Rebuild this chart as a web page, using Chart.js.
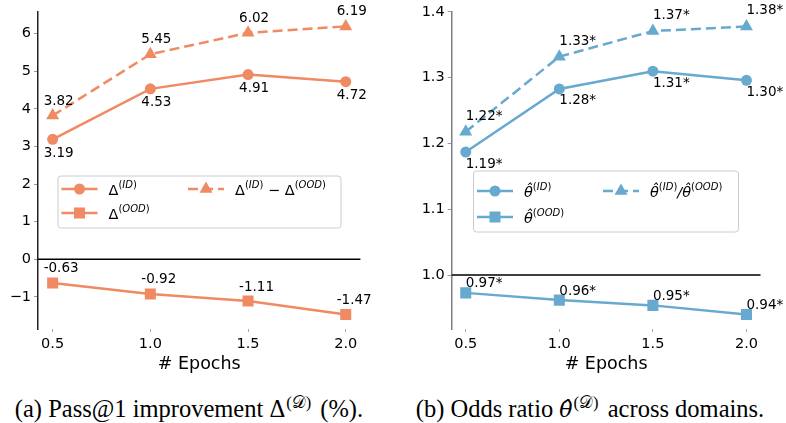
<!DOCTYPE html>
<html>
<head>
<meta charset="utf-8">
<script src="https://cdn.jsdelivr.net/npm/chart.js@4.4.0/dist/chart.umd.min.js"></script>
<style>
  html, body { margin: 0; padding: 0; background: #fff; }
  #wrap { position: relative; width: 786px; height: 423px; overflow: hidden; }
  canvas { position: absolute; top: 0; }
  #passChart { left: 0; }
  #oddsChart { left: 393px; }
  .cap { position: absolute; top: 397px; transform: translateX(-50%); white-space: nowrap; line-height: 1;
         font-family: "Liberation Serif", "Times New Roman", serif; font-size: 24.5px; color: #000; }
  .cap sup { font-size: 16.5px; vertical-align: 0; position: relative; top: -9px; margin-left: 1px; margin-right: 3px; }
  .cap .th { font-family: "DejaVu Serif", serif; font-style: italic; font-size: 22px; }
</style>
</head>
<body>
<div id="wrap">
  <canvas id="passChart" width="393" height="378"></canvas>
  <canvas id="oddsChart" width="393" height="378"></canvas>
  <div class="cap" style="left:189px">(a) Pass@1 improvement Δ<sup>(𝒟)</sup> (%).</div>
  <div class="cap" style="left:590px">(b) Odds ratio <span class="th">θ̂</span><sup>(𝒟)</sup> across domains.</div>
</div>
<script>
// --- data ---
const epochs     = [0.5, 1.0, 1.5, 2.0];
const epochTicks = [0.5, 1.0, 1.5, 2.0];

const passId  = [3.19, 4.53, 4.91, 4.72];
const passOod = [-0.63, -0.92, -1.11, -1.47];
const passGap = [3.82, 5.45, 6.02, 6.19];
const passTicks = [-1, 0, 1, 2, 3, 4, 5, 6];

const oddsId    = [1.187, 1.283, 1.310, 1.296];
const oddsOod   = [0.973, 0.962, 0.954, 0.940];
const oddsRatio = [1.218, 1.332, 1.371, 1.378];
const oddsTicks = [1.0, 1.1, 1.2, 1.3, 1.4];

// --- styling ---
const ORANGE = '#ef8a62';
const BLUE   = '#67a9cf';
const SANS   = '"DejaVu Sans", sans-serif';

function series(ys) { return epochs.map((x, i) => ({ x, y: ys[i] })); }

// matplotlib-style 5% margins
function padRange(vals) {
  const lo = Math.min(...vals), hi = Math.max(...vals), m = (hi - lo) * 0.05;
  return [lo - m, hi + m];
}

function lineSet(label, ys, color, style, radius, dashed, valueLabel) {
  return {
    label, data: series(ys),
    borderColor: color, backgroundColor: color,
    borderWidth: 2.5, borderDash: dashed ? [10, 5] : [],
    pointStyle: style, pointRadius: radius, pointHoverRadius: radius,
    pointBorderWidth: 0, tension: 0,
    valueLabel
  };
}

// numbers next to each marker
const valueLabels = {
  id: 'valueLabels',
  afterDatasetsDraw(chart) {
    const ctx = chart.ctx;
    ctx.save();
    ctx.font = '13.5px ' + SANS;
    ctx.fillStyle = '#000';
    ctx.textAlign = 'left';
    ctx.textBaseline = 'middle';
    chart.data.datasets.forEach((ds, i) => {
      const lab = ds.valueLabel;
      chart.getDatasetMeta(i).data.forEach((pt, j) => {
        ctx.fillText(ds.data[j].y.toFixed(2) + lab.suffix, pt.x + lab.dx, pt.y + lab.dy);
      });
    });
    ctx.restore();
  }
};

// black horizontal reference line (0 / 1.0)
const refLine = {
  id: 'refLine',
  beforeDatasetsDraw(chart, args, opts) {
    const { ctx, chartArea } = chart;
    const y = chart.scales.y.getPixelForValue(opts.value);
    ctx.save();
    ctx.strokeStyle = '#000';
    ctx.lineWidth = 1.5;
    ctx.beginPath();
    ctx.moveTo(chartArea.left, y);
    ctx.lineTo(chartArea.right, y);
    ctx.stroke();
    ctx.restore();
  }
};

// text with superscripts, parts = [{t, sup, it}]
function drawRich(ctx, x, y, parts) {
  parts.forEach(p => {
    const size = p.sup ? 10 : 14.5;
    ctx.font = (p.it ? 'italic ' : '') + size + 'px ' + SANS;
    ctx.fillText(p.t, x, p.sup ? y - 7 : y);
    x += ctx.measureText(p.t).width;
  });
}
const sup = (inner) => [{ t: '(', sup: 1 }, { t: inner, sup: 1, it: 1 }, { t: ')', sup: 1 }];

// two-column legend box like matplotlib's
const boxLegend = {
  id: 'boxLegend',
  afterDraw(chart, args, opts) {
    const ctx = chart.ctx;
    const b = opts.box;
    ctx.save();
    ctx.fillStyle = 'rgba(255,255,255,0.8)';
    ctx.strokeStyle = '#cccccc';
    ctx.lineWidth = 1;
    ctx.beginPath();
    ctx.roundRect(b.x + 0.5, b.y + 0.5, b.w, b.h, 3);
    ctx.fill();
    ctx.stroke();
    opts.items.forEach(it => {
      const ds = chart.data.datasets[it.ds];
      ctx.strokeStyle = ds.borderColor;
      ctx.lineWidth = ds.borderWidth;
      ctx.setLineDash(ds.borderDash);
      ctx.beginPath();
      ctx.moveTo(it.x, it.y);
      ctx.lineTo(it.x + 36, it.y);
      ctx.stroke();
      ctx.setLineDash([]);
      ctx.fillStyle = ds.backgroundColor;
      Chart.helpers.drawPoint(ctx, { pointStyle: ds.pointStyle, radius: ds.pointRadius, borderWidth: 0, rotation: 0 }, it.x + 18, it.y);
      ctx.fillStyle = '#000';
      ctx.textAlign = 'left';
      ctx.textBaseline = 'alphabetic';
      drawRich(ctx, it.x + 47, it.y + 5.5, it.parts);
    });
    ctx.restore();
  }
};

function yAxis(range, ticks, width, spine, fmt) {
  return {
    type: 'linear', min: range[0], max: range[1],
    afterBuildTicks: s => { s.ticks = ticks.map(v => ({ value: v })); },
    afterFit: s => { s.width = width; },
    border: { display: true, color: spine, width: 1.5 },
    grid: { display: true, drawOnChartArea: false, drawTicks: true, tickLength: 4, color: '#999' },
    ticks: { color: '#000', font: { family: SANS, size: 14.5 }, padding: 3, callback: fmt }
  };
}

function xAxis() {
  const r = padRange(epochs);
  return {
    type: 'linear', min: r[0], max: r[1],
    afterBuildTicks: s => { s.ticks = epochTicks.map(v => ({ value: v })); },
    afterFit: s => { s.height = 49; },
    border: { display: false },
    grid: { display: true, drawOnChartArea: false, drawTicks: true, tickLength: 3, color: '#aaa' },
    ticks: { color: '#000', font: { family: SANS, size: 14.5 }, padding: 4, maxRotation: 0,
             callback: v => v.toFixed(1) },
    title: { display: true, text: '# Epochs', color: '#000', font: { family: SANS, size: 17.5 },
             padding: { top: 0, bottom: 3 } }
  };
}

function baseOptions(padRight, yScale, refValue, legendOpts) {
  return {
    responsive: false, animation: false, devicePixelRatio: 1,
    layout: { padding: { left: 0, top: 12, right: padRight, bottom: 0 } },
    scales: { x: xAxis(), y: yScale },
    plugins: {
      legend: { display: false }, tooltip: { enabled: false },
      refLine: { value: refValue },
      boxLegend: legendOpts
    }
  };
}

// (a) Pass@1 improvement
new Chart(document.getElementById('passChart'), {
  type: 'line',
  data: { datasets: [
    lineSet('ID', passId, ORANGE, 'circle', 5.5, false, { dx: -9, dy: 14, suffix: '' }),
    lineSet('OOD', passOod, ORANGE, 'rect', 7.8, false, { dx: -9, dy: -14, suffix: '' }),
    lineSet('ID-OOD', passGap, ORANGE, 'triangle', 7.5, true, { dx: -9, dy: -14.5, suffix: '' })
  ] },
  options: baseOptions(32.6,
    yAxis(padRange(passId.concat(passOod, passGap)), passTicks, 38, '#222',
          v => v < 0 ? '\u2212' + Math.abs(v) : String(v)),
    0,
    { box: { x: 57.5, y: 175.5, w: 283, h: 52 },
      items: [
        { ds: 0, x: 61.5, y: 189, parts: [{ t: 'Δ' }].concat(sup('ID')) },
        { ds: 1, x: 61.5, y: 213, parts: [{ t: 'Δ' }].concat(sup('OOD')) },
        { ds: 2, x: 188, y: 189, parts: [{ t: 'Δ' }].concat(sup('ID'), [{ t: ' \u2212 ' }, { t: 'Δ' }], sup('OOD')) }
      ] }),
  plugins: [refLine, valueLabels, boxLegend]
});

// (b) Odds ratio
new Chart(document.getElementById('oddsChart'), {
  type: 'line',
  data: { datasets: [
    lineSet('ID', oddsId, BLUE, 'circle', 5.5, false, { dx: 0, dy: 12, suffix: '*' }),
    lineSet('OOD', oddsOod, BLUE, 'rect', 7.8, false, { dx: 0, dy: -9, suffix: '*' }),
    lineSet('ID/OOD', oddsRatio, BLUE, 'triangle', 7.5, true, { dx: 0, dy: -15.5, suffix: '*' })
  ] },
  options: baseOptions(25.5,
    yAxis(padRange(oddsId.concat(oddsOod, oddsRatio)), oddsTicks, 58.7, '#808080',
          v => v.toFixed(1)),
    1.0,
    { box: { x: 80, y: 170.5, w: 265, h: 61 },
      items: [
        { ds: 0, x: 84, y: 191, parts: [{ t: 'θ̂', it: 1 }].concat(sup('ID')) },
        { ds: 1, x: 84, y: 217, parts: [{ t: 'θ̂', it: 1 }].concat(sup('OOD')) },
        { ds: 2, x: 210, y: 191, parts: [{ t: 'θ̂', it: 1 }].concat(sup('ID'), [{ t: '/', it: 1 }, { t: 'θ̂', it: 1 }], sup('OOD')) }
      ] }),
  plugins: [refLine, valueLabels, boxLegend]
});
</script>
</body>
</html>
